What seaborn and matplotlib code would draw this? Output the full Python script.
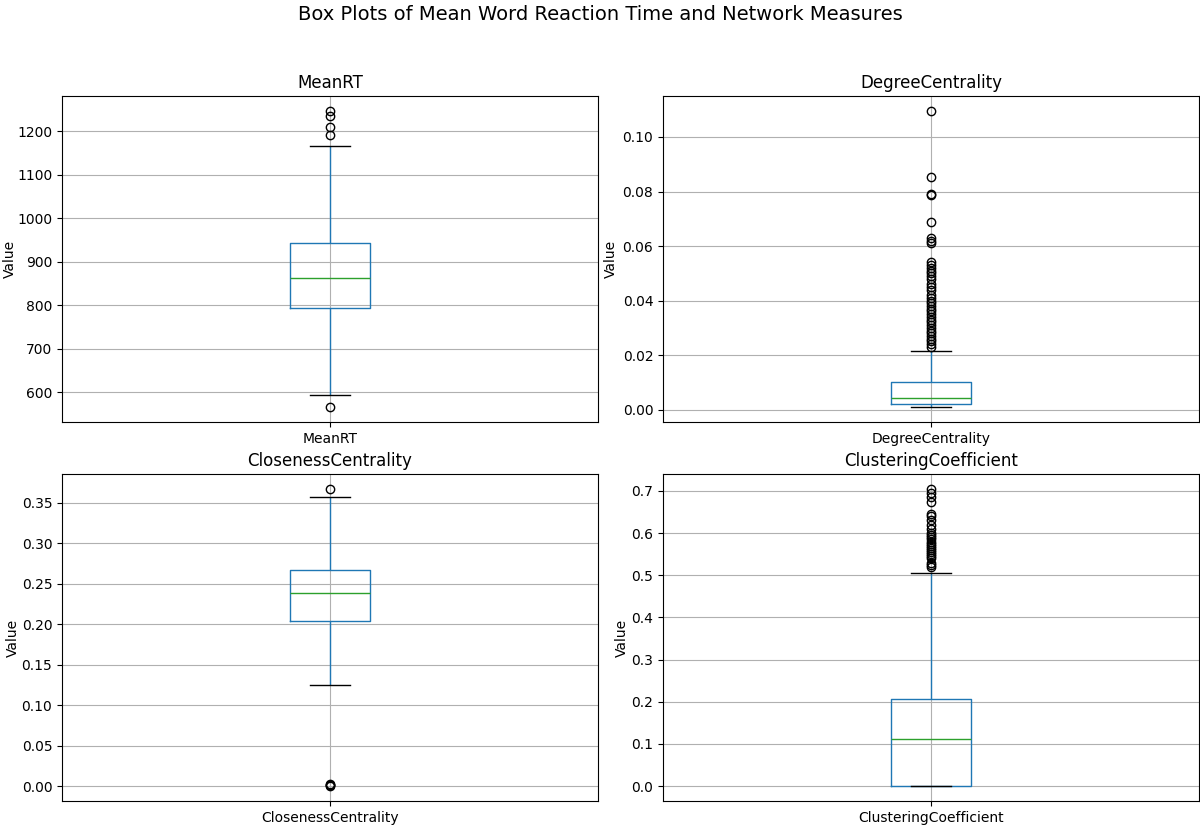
import numpy as np
import pandas as pd
import seaborn as sns
import matplotlib
matplotlib.use("Agg")
import matplotlib.pyplot as plt

# Variables shown in the four panels
variables = ["MeanRT", "DegreeCentrality", "ClosenessCentrality", "ClusteringCoefficient"]

# [lower whisker, Q1, median, Q3, upper whisker]
meanrt_stats = [594, 793, 863, 943, 1166]
degree_stats = [0.0009, 0.0021, 0.0043, 0.0100, 0.0216]
closeness_stats = [0.1245, 0.2041, 0.2387, 0.2671, 0.3574]
clustering_stats = [0.0, 0.0, 0.1111, 0.2064, 0.5056]

# Outlier points
meanrt_outliers = [566, 1192, 1210, 1235, 1247]
degree_outliers = [0.023, 0.024, 0.025, 0.026, 0.027, 0.028, 0.029, 0.030, 0.031,
                   0.032, 0.033, 0.034, 0.035, 0.036, 0.037, 0.038, 0.039, 0.040,
                   0.041, 0.042, 0.044, 0.045, 0.046, 0.048, 0.049, 0.050, 0.051,
                   0.052, 0.053, 0.054, 0.061, 0.062, 0.063, 0.069, 0.0786, 0.0791,
                   0.0853, 0.1096]
closeness_outliers = [0.0, 0.001, 0.002, 0.003, 0.3673]
clustering_outliers = [0.52, 0.525, 0.53, 0.54, 0.545, 0.55, 0.555, 0.56, 0.565, 0.57,
                       0.575, 0.58, 0.585, 0.59, 0.595, 0.60, 0.61, 0.62, 0.63, 0.64,
                       0.645, 0.675, 0.685, 0.695, 0.705]

summaries = [meanrt_stats, degree_stats, closeness_stats, clustering_stats]
outliers = [meanrt_outliers, degree_outliers, closeness_outliers, clustering_outliers]


def sample_from_summary(stats, extra, block=200):
    lo, q1, med, q3, hi = stats
    vals = [lo] + [q1] * block + [med] * block + [q3] * block + [hi] + list(extra)
    return np.array(vals, dtype=float)


fig = plt.figure(figsize=(12, 8.26), dpi=100)
W, H = 1200, 826
boxes_px = [(62, 96, 598, 422), (663, 96, 1199, 422),
            (62, 474, 598, 801), (663, 474, 1199, 801)]
ylabel_x = [-0.085, -0.084, -0.078, -0.063]

blue = "#1f77b4"
for name, stats, extra, (x0, y0, x1, y1), lx in zip(variables, summaries, outliers,
                                                     boxes_px, ylabel_x):
    ax = fig.add_axes([x0 / W, 1 - y1 / H, (x1 - x0) / W, (y1 - y0) / H])
    values = sample_from_summary(stats, extra)
    df = pd.DataFrame({"variable": [name] * len(values), "value": values})
    sns.boxplot(data=df, x="variable", y="value", ax=ax, width=0.15, fill=False,
                color=blue, linewidth=1.0, whis=1.5,
                boxprops=dict(color=blue, linewidth=1.0),
                whiskerprops=dict(color=blue, linewidth=1.0),
                medianprops=dict(color="#2ca02c", linewidth=1.0),
                capprops=dict(color="black", linewidth=1.0),
                flierprops=dict(marker="o", markersize=6, markerfacecolor="none",
                                markeredgecolor="black", markeredgewidth=1.0,
                                linestyle="none"))
    ax.grid(True, color="#b0b0b0", linewidth=0.8)
    ax.set_axisbelow(True)
    ax.set_title(name, fontsize=12)
    ax.set_xlabel("")
    ax.set_ylabel("Value", fontsize=10)
    ax.yaxis.set_label_coords(lx, 0.5)
    ax.tick_params(labelsize=10)
    for s in ax.spines.values():
        s.set_visible(True)
        s.set_color("black")
        s.set_linewidth(0.8)

fig.suptitle("Box Plots of Mean Word Reaction Time and Network Measures",
             fontsize=14, y=1 - 15 / H, va="center")
fig.savefig("out.png", dpi=100)
